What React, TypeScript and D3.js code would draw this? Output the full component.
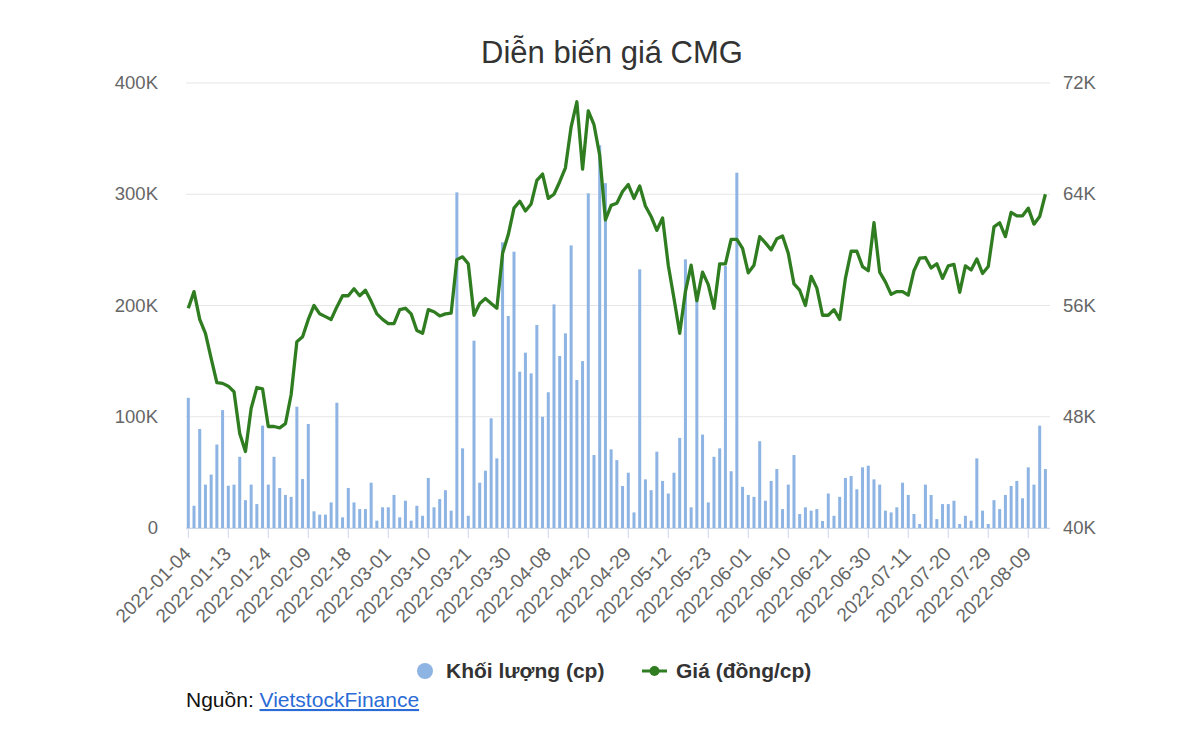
import React from "react";
import * as d3 from "d3";

const title = "Diễn biến giá CMG";

const dates: string[] = [
  "2022-01-04","2022-01-05","2022-01-06","2022-01-07","2022-01-10","2022-01-11","2022-01-12","2022-01-13","2022-01-14","2022-01-17","2022-01-18","2022-01-19","2022-01-20","2022-01-21","2022-01-24","2022-01-25","2022-01-26","2022-01-27","2022-01-28",
  "2022-02-07","2022-02-08","2022-02-09","2022-02-10","2022-02-11","2022-02-14","2022-02-15","2022-02-16","2022-02-17","2022-02-18","2022-02-21","2022-02-22","2022-02-23","2022-02-24","2022-02-25","2022-02-28",
  "2022-03-01","2022-03-02","2022-03-03","2022-03-04","2022-03-07","2022-03-08","2022-03-09","2022-03-10","2022-03-11","2022-03-14","2022-03-15","2022-03-16","2022-03-17","2022-03-18","2022-03-21","2022-03-22","2022-03-23","2022-03-24","2022-03-25","2022-03-28","2022-03-29","2022-03-30","2022-03-31",
  "2022-04-01","2022-04-04","2022-04-05","2022-04-06","2022-04-07","2022-04-08","2022-04-12","2022-04-13","2022-04-14","2022-04-15","2022-04-18","2022-04-19","2022-04-20","2022-04-21","2022-04-22","2022-04-25","2022-04-26","2022-04-27","2022-04-28","2022-04-29",
  "2022-05-04","2022-05-05","2022-05-06","2022-05-09","2022-05-10","2022-05-11","2022-05-12","2022-05-13","2022-05-16","2022-05-17","2022-05-18","2022-05-19","2022-05-20","2022-05-23","2022-05-24","2022-05-25","2022-05-26","2022-05-27","2022-05-30","2022-05-31",
  "2022-06-01","2022-06-02","2022-06-03","2022-06-06","2022-06-07","2022-06-08","2022-06-09","2022-06-10","2022-06-13","2022-06-14","2022-06-15","2022-06-16","2022-06-17","2022-06-20","2022-06-21","2022-06-22","2022-06-23","2022-06-24","2022-06-27","2022-06-28","2022-06-29","2022-06-30",
  "2022-07-01","2022-07-04","2022-07-05","2022-07-06","2022-07-07","2022-07-08","2022-07-11","2022-07-12","2022-07-13","2022-07-14","2022-07-15","2022-07-18","2022-07-19","2022-07-20","2022-07-21","2022-07-22","2022-07-25","2022-07-26","2022-07-27","2022-07-28","2022-07-29",
  "2022-08-01","2022-08-02","2022-08-03","2022-08-04","2022-08-05","2022-08-08","2022-08-09","2022-08-10","2022-08-11","2022-08-12",
];

const volumes: number[] = [
  117000,20000,89000,39000,48000,75000,106000,38000,39000,64000,25000,39000,21500,92000,39000,64000,36000,29700,28000,109000,44000,93500,15000,12000,12000,
  23000,112600,9600,36000,23000,17000,17000,40700,6600,18600,18600,29700,9600,24500,6600,20000,11000,45000,18600,26000,34000,15600,301700,71600,11000,
  168400,40700,51500,98600,62600,256800,190600,248400,140500,157600,139000,182500,100000,122000,201000,154600,175000,254000,133000,150000,300800,65600,344000,310000,70700,
  61000,37800,49700,14000,232500,43700,34000,68600,42300,31000,49700,81000,241500,18600,211000,84000,23000,64000,71600,235500,51000,319400,37000,29700,28000,
  78000,24500,42300,53000,17000,39000,65600,12600,18600,15600,17000,6300,31000,11000,28000,45000,46700,34800,54500,56000,43700,39000,15600,14000,18600,
  40700,29700,12600,3600,39000,29700,8000,21500,21500,24500,3600,11000,6600,62600,15600,3600,25000,17000,29700,37800,42300,26700,54500,39000,92000,53000,
];

const prices: number[] = [
  55800,57000,55000,54000,52200,50450,50400,50200,49800,46800,45500,48600,50100,50000,47300,47300,47200,47500,49600,53400,53750,55000,56000,55400,55200,
  55000,55900,56700,56700,57200,56700,57100,56300,55400,55000,54700,54700,55700,55800,55400,54200,54000,55700,55550,55250,55400,55450,59300,59500,59000,
  55300,56150,56500,56150,55800,59750,61100,63000,63500,62800,63300,65000,65450,63700,64000,64900,65900,68850,70650,65800,70000,69000,66800,62150,63200,
  63350,64200,64700,63700,64600,63150,62400,61400,62300,58900,56500,54000,57000,58900,56350,58400,57500,55800,59000,59000,60750,60750,60100,58350,58900,
  60950,60500,60000,60800,61000,59750,57550,57100,56000,58100,57250,55300,55300,55700,55000,57950,59900,59900,58800,58500,61950,58400,57700,56800,57000,
  57000,56750,58500,59400,59450,58700,59000,57950,58850,58950,56950,58850,58550,59350,58300,58800,61650,61950,60950,62700,62450,62450,63000,61850,62400,64000,
];

const volumeTicks = [0, 100000, 200000, 300000, 400000];
const priceTicks = [40000, 48000, 56000, 64000, 72000];
const legendVolume = "Khối lượng (cp)";
const legendPrice = "Giá (đồng/cp)";
const sourceLabel = "Nguồn: ";
const sourceLink = "VietstockFinance";

const W = 1200;
const H = 735;
const plotLeft = 186;
const plotRight = 1050;
const plotTop = 83;
const plotBottom = 528;
const FONT = "'Liberation Sans', Arial, Helvetica, sans-serif";
const BAR = "#8db4e3";
const GREEN = "#2f7d20";

const fmtK = (v: number) => (v === 0 ? "0" : `${v / 1000}K`);

export default function App() {
  const n = dates.length;
  const x = d3.scaleLinear().domain([0, n - 1]).range([188.3, 1045.4]);
  const yV = d3.scaleLinear().domain([0, 400000]).range([plotBottom, plotTop]);
  const yP = d3.scaleLinear().domain([40000, 72000]).range([plotBottom, plotTop]);
  const line = d3
    .line<number>()
    .x((_, i) => x(i))
    .y((d) => yP(d));
  const barW = 3;
  const tickIdx = d3.range(0, n, 7);

  return (
    <svg
      width={W}
      height={H}
      style={{ position: "absolute", left: 0, top: 0, background: "#fff" }}
      fontFamily={FONT}
    >
      <rect x={0} y={0} width={W} height={H} fill="#fff" />
      <text x={612} y={63} textAnchor="middle" fontSize={31} fill="#333">
        {title}
      </text>

      {volumeTicks.map((t) => (
        <line key={"g" + t} x1={plotLeft} x2={plotRight} y1={yV(t)} y2={yV(t)} stroke="#e6e6e6" strokeWidth={1} />
      ))}

      {volumeTicks.map((t) => (
        <text key={"l" + t} x={158} y={yV(t) + 6} textAnchor="end" fontSize={18.5} fill="#666">
          {fmtK(t)}
        </text>
      ))}
      {priceTicks.map((t) => (
        <text key={"r" + t} x={1063} y={yP(t) + 6} textAnchor="start" fontSize={18.5} fill="#666">
          {fmtK(t)}
        </text>
      ))}

      {volumes.map((v, i) => (
        <rect key={"b" + i} x={x(i) - barW / 2} y={yV(v)} width={barW} height={plotBottom - yV(v)} fill={BAR} />
      ))}

      <line x1={plotLeft} x2={plotRight} y1={plotBottom + 0.5} y2={plotBottom + 0.5} stroke="#ccd6eb" strokeWidth={1} />
      {tickIdx.map((i) => (
        <line key={"t" + i} x1={x(i)} x2={x(i)} y1={plotBottom} y2={plotBottom + 10} stroke="#ccd6eb" strokeWidth={1} />
      ))}
      {tickIdx.map((i) => (
        <text
          key={"x" + i}
          transform={`translate(${x(i) + 4},${plotBottom + 27}) rotate(-45)`}
          textAnchor="end"
          fontSize={19}
          fill="#666"
        >
          {dates[i]}
        </text>
      ))}

      <path d={line(prices) || ""} fill="none" stroke={GREEN} strokeWidth={3.3} strokeLinejoin="round" />

      <circle cx={425} cy={671} r={8} fill={BAR} />
      <text x={446} y={678} fontSize={21} fontWeight="bold" fill="#333">
        {legendVolume}
      </text>
      <line x1={642} x2={667} y1={671} y2={671} stroke={GREEN} strokeWidth={3} />
      <circle cx={654.5} cy={671} r={5} fill={GREEN} />
      <text x={676} y={678} fontSize={21} fontWeight="bold" fill="#333">
        {legendPrice}
      </text>

      <text x={186} y={707} fontSize={21} fill="#111">
        {sourceLabel}
        <tspan fill="#2a6bd6" textDecoration="underline">
          {sourceLink}
        </tspan>
      </text>
    </svg>
  );
}
